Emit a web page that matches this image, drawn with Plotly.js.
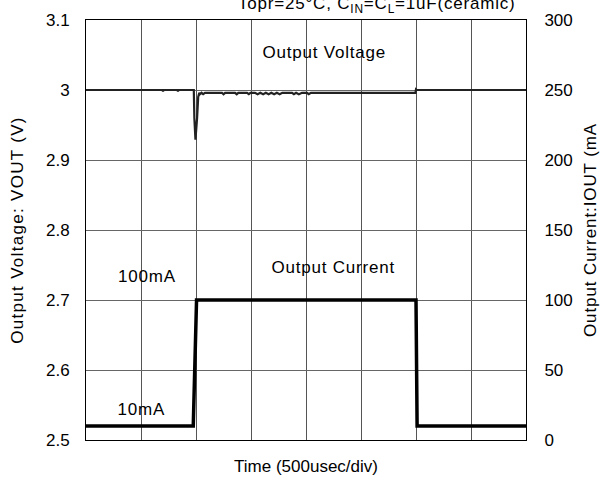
<!DOCTYPE html>
<html>
<head>
<meta charset="utf-8">
<script src="https://cdn.plot.ly/plotly-3.0.1.min.js"></script>
<style>
html,body{margin:0;padding:0;background:#fff;}
#chart{width:605px;height:483px;}
#chart text.ytitle { letter-spacing: 1.3px; }
#chart text.y2title { letter-spacing: 0.9px; }
#chart .annotation-text { letter-spacing: 0.8px; }
</style>
</head>
<body>
<div id="chart"></div>
<script>
// Time in microseconds (500 usec per division, 8 divisions)
var voltTime = [0, 695, 700, 705, 830, 836, 842, 980, 985, 995, 1010, 1020, 1030,
  1036, 1050, 1065, 1082, 1236, 1250, 1265, 1291, 1355, 1370, 1385, 1400, 1464, 1480, 1495, 1509,
  1536, 1560, 1585, 1610, 1635, 1660, 1685, 1710, 1735, 1760, 1785, 1809,
  1873, 1890, 1910, 1935, 1964, 2009, 2025, 2045, 2064, 2100, 2500, 2995, 3000, 3008, 3500, 4000];
var voltage = [3.000, 3.000, 2.998, 3.000, 3.000, 2.998, 3.000, 3.000, 2.960, 2.929, 2.960, 2.990, 2.996,
  2.994, 2.996, 2.994, 2.996, 2.996, 2.994, 2.996, 2.996, 2.996, 2.994, 2.996, 2.996, 2.996, 2.994, 2.996, 2.996,
  2.996, 2.994, 2.996, 2.994, 2.996, 2.994, 2.996, 2.994, 2.996, 2.994, 2.996, 2.996,
  2.996, 2.994, 2.996, 2.994, 2.996, 2.996, 2.994, 2.996, 2.996, 2.996, 2.996, 2.996, 3.001, 3.000, 3.000, 3.000];
var currTime = [0, 975, 1005, 3000, 3010, 4000];
var current = [10, 10, 100, 100, 10, 10];
var voltTicks = [2.5, 2.6, 2.7, 2.8, 2.9, 3.0, 3.1];
var voltTickText = ['2.5', '2.6', '2.7', '2.8', '2.9', '3', '3.1'];
var currTicks = [0, 50, 100, 150, 200, 250, 300];

var font = {family: 'Liberation Sans, Arial, sans-serif', size: 17, color: '#000'};

var traces = [
  {x: voltTime, y: voltage, type: 'scatter', mode: 'lines', yaxis: 'y',
   line: {color: '#222', width: 2.2}, hoverinfo: 'skip', showlegend: false},
  {x: currTime, y: current, type: 'scatter', mode: 'lines', yaxis: 'y2',
   line: {color: '#000', width: 3.5}, hoverinfo: 'skip', showlegend: false}
];

var layout = {
  width: 605, height: 483,
  margin: {l: 86, r: 79, t: 20, b: 43},
  paper_bgcolor: '#fff', plot_bgcolor: '#fff',
  font: font,
  showlegend: false,
  xaxis: {range: [0, 4000], dtick: 500, tick0: 0, showticklabels: false, ticks: '',
    showgrid: true, gridcolor: '#555', gridwidth: 1, zeroline: false,
    showline: true, linecolor: '#000', linewidth: 1, mirror: true,
    title: {text: 'Time (500usec/div)', font: font, standoff: 20}},
  yaxis: {range: [2.5, 3.1], tickvals: voltTicks, ticktext: voltTickText, ticks: '',
    ticklabelstandoff: 12,
    showgrid: true, gridcolor: '#666', gridwidth: 1, zeroline: false,
    showline: true, linecolor: '#000', linewidth: 1, mirror: true,
    title: {text: 'Output Voltage: VOUT (V)', font: font, standoff: 18}},
  yaxis2: {range: [0, 300], tickvals: currTicks, overlaying: 'y', side: 'right', ticks: '',
    ticklabelstandoff: 14,
    showgrid: false, zeroline: false, showline: true, linecolor: '#000', linewidth: 1,
    title: {text: 'Output Current:IOUT (mA', font: font, standoff: 12}},
  annotations: [
    {text: 'Topr=25°C, C<sub>IN</sub>=C<sub>L</sub>=1uF(ceramic)', xref: 'paper', yref: 'paper',
     x: 0.661, y: 1.035, xanchor: 'center', yanchor: 'middle', showarrow: false, font: font},
    {text: 'Output Voltage', x: 2164, y: 3.053, xref: 'x', yref: 'y', showarrow: false, font: font},
    {text: 'Output Current', x: 2254, y: 2.746, xref: 'x', yref: 'y', showarrow: false, font: font},
    {text: '100mA', x: 555, y: 2.734, xref: 'x', yref: 'y', showarrow: false, font: font},
    {text: '10mA', x: 505, y: 2.544, xref: 'x', yref: 'y', showarrow: false, font: font}
  ]
};

Plotly.newPlot('chart', traces, layout, {staticPlot: true, displayModeBar: false});
</script>
</body>
</html>
